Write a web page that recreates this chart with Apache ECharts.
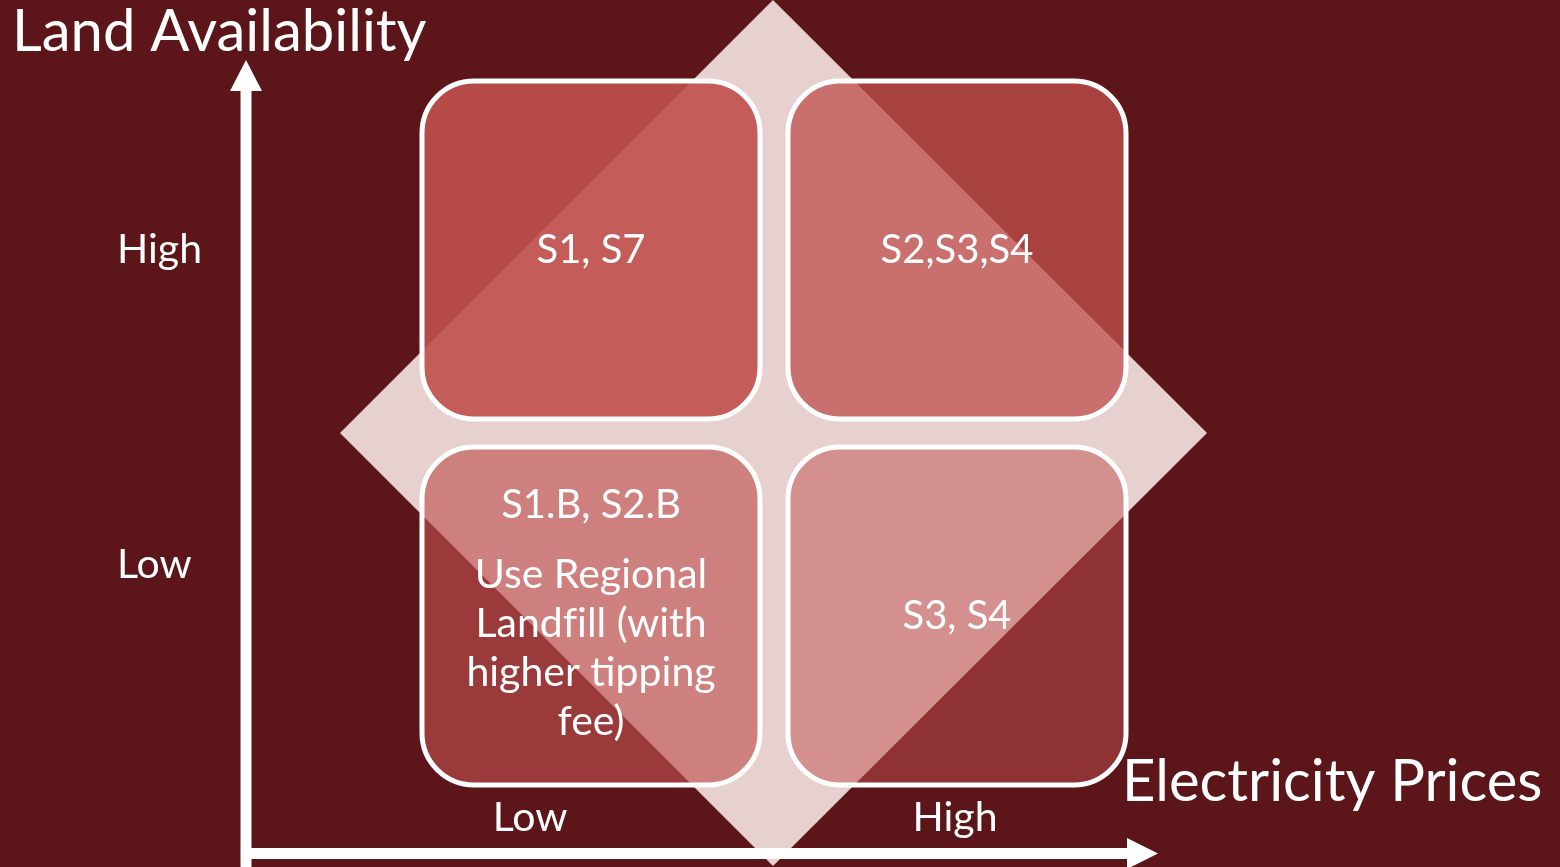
<!DOCTYPE html>
<html>
<head>
<meta charset="utf-8">
<script src="https://cdn.jsdelivr.net/npm/echarts@6/dist/echarts.min.js"></script>
<style>
  html, body { margin: 0; padding: 0; background: #5C1519; }
  #chart { width: 1560px; height: 867px; }
</style>
</head>
<body>
<div id="chart"></div>
<script>
// Levels on each axis (bottom-to-top for the vertical one)
const xCategories = ['Low', 'High'];
const yCategories = ['Low', 'High'];
const xAxisName = 'Electricity Prices';
const yAxisName = 'Land Availability';

// [electricity price level, land availability level, scenarios, note]
const cells = [
  ['Low',  'High', 'S1, S7',     ''],
  ['High', 'High', 'S2,S3,S4',   ''],
  ['Low',  'Low',  'S1.B, S2.B', 'Use Regional\nLandfill (with\nhigher tipping\nfee)'],
  ['High', 'Low',  'S3, S4',     '']
];

const FONT = 'Lato, "Open Sans", sans-serif';
const WHITE = '#ffffff';
const cellAlpha = [0.9, 0.76, 0.63, 0.5];

const chart = echarts.init(document.getElementById('chart'), null, { renderer: 'canvas' });

// Wrap one note line as a rich-text run; "fi" is split into two runs so the
// canvas does not draw it as a ligature.
function noteLine(s) {
  return '{b|' + s.replace(/fi/g, 'f}{b|i') + '}';
}

function renderCell(params, api) {
  const i = params.dataIndex;
  const c = api.coord([api.value(0), api.value(1)]);
  const band = api.size([1, 1]);
  const w = band[0] * 0.9235;
  const h = band[1] * 0.9235;
  const cell = cells[i];
  let textStyle;
  if (cell[3]) {
    const lines = ['{h|' + cell[2] + '}'].concat(cell[3].split('\n').map(noteLine));
    textStyle = {
      text: lines.join('\n'),
      x: c[0], y: c[1] - 13,
      align: 'center', verticalAlign: 'middle',
      rich: {
        h: { fontSize: 40, fontFamily: FONT, lineHeight: 91, fill: WHITE },
        b: { fontSize: 41, fontFamily: FONT, lineHeight: 49, fill: WHITE }
      }
    };
  } else {
    textStyle = {
      text: cell[2],
      x: c[0], y: c[1],
      align: 'center', verticalAlign: 'middle',
      fontSize: 40, fontFamily: FONT, fill: WHITE
    };
  }
  return {
    type: 'group',
    children: [
      {
        type: 'rect',
        shape: { x: c[0] - w / 2, y: c[1] - h / 2, width: w, height: h, r: 52 },
        style: { fill: 'rgba(192,80,77,' + cellAlpha[i] + ')', stroke: WHITE, lineWidth: 5 }
      },
      { type: 'text', style: textStyle }
    ]
  };
}

function label(text, x, y, size, align) {
  return {
    type: 'text', x: x, y: y,
    style: { text: text, fill: WHITE, fontSize: size, fontFamily: FONT, align: align, verticalAlign: 'middle' }
  };
}

const option = {
  backgroundColor: '#5C1519',
  animation: false,
  grid: { left: 408, top: 67, width: 732, height: 732 },
  xAxis: { type: 'category', data: xCategories, show: false },
  yAxis: { type: 'category', data: yCategories, show: false },
  graphic: {
    elements: [
      // light diamond behind the quadrants
      {
        type: 'polygon',
        shape: { points: [[773, 0], [1207, 433], [773, 866], [340, 433]] },
        style: { fill: '#E7D0D0' }
      },
      // vertical arrow
      { type: 'line', shape: { x1: 246, y1: 88, x2: 246, y2: 870 }, style: { stroke: WHITE, lineWidth: 11 } },
      { type: 'polygon', shape: { points: [[230, 91], [262, 91], [246, 60]] }, style: { fill: WHITE } },
      // horizontal arrow
      { type: 'line', shape: { x1: 246, y1: 853.5, x2: 1130, y2: 853.5 }, style: { stroke: WHITE, lineWidth: 11 } },
      { type: 'polygon', shape: { points: [[1127, 838], [1127, 869], [1158, 853.5]] }, style: { fill: WHITE } },
      // axis names
      label(yAxisName, 12, 32, 58, 'left'),
      label(xAxisName, 1122, 782, 58, 'left'),
      // level labels
      label(yCategories[1], 117, 250, 41, 'left'),
      label(yCategories[0], 117, 565, 41, 'left'),
      label(xCategories[0], 530, 818, 41, 'center'),
      label(xCategories[1], 955, 818, 41, 'center')
    ]
  },
  series: [{
    type: 'custom',
    renderItem: renderCell,
    data: cells.map(c => [xCategories.indexOf(c[0]), yCategories.indexOf(c[1])]),
    encode: { x: 0, y: 1 },
    z: 5
  }]
};

chart.setOption(option);
</script>
</body>
</html>
